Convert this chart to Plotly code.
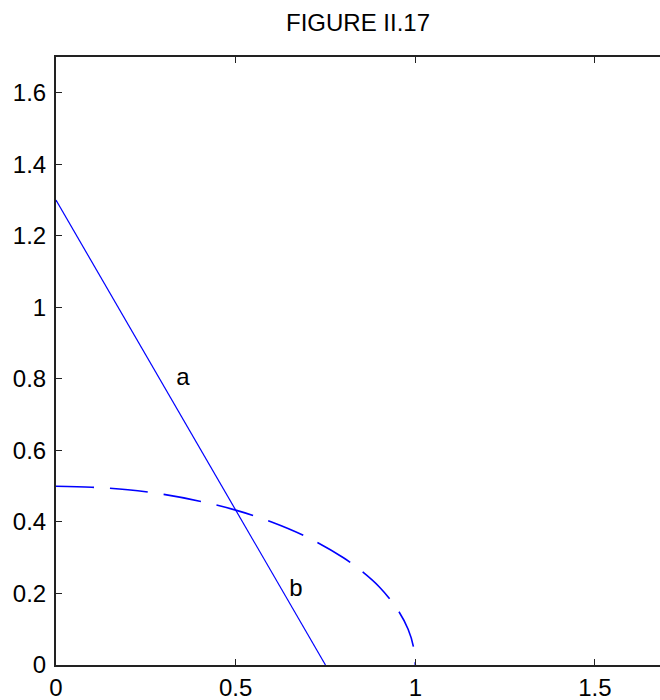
import plotly.graph_objects as go

# Solid line a-b
line_x = [0.0, 0.75]
line_y = [1.3, 0.0]

# Dashed curve
curve_x = [0.0, 0.1, 0.2, 0.3, 0.4, 0.5, 0.6, 0.7, 0.8, 0.85, 0.9, 0.95, 0.98, 0.995, 1.0]
curve_y = [0.5, 0.497, 0.49, 0.477, 0.458, 0.433, 0.4, 0.357, 0.3, 0.263, 0.218, 0.156, 0.1, 0.05, 0.0]

# Text labels
label_text = ["a", "b"]
label_x = [0.353, 0.668]
label_y = [0.80, 0.21]

# Ticks
x_ticks = [0, 0.5, 1, 1.5]
x_ticktext = ["0", "0.5", "1", "1.5"]
y_ticks = [0, 0.2, 0.4, 0.6, 0.8, 1.0, 1.2, 1.4, 1.6]
y_ticktext = ["0", "0.2", "0.4", "0.6", "0.8", "1", "1.2", "1.4", "1.6"]

FONT = "Liberation Sans, Arial, sans-serif"

fig = go.Figure()
fig.add_trace(go.Scatter(x=line_x, y=line_y, mode="lines",
                         line=dict(color="#0000ff", width=1.2), hoverinfo="skip"))
fig.add_trace(go.Scatter(x=curve_x, y=curve_y, mode="lines",
                         line=dict(color="#0000ff", width=1.6, dash="38px,16px", shape="spline"),
                         hoverinfo="skip"))
fig.add_trace(go.Scatter(x=label_x, y=label_y, mode="text", text=label_text,
                         textfont=dict(family=FONT, size=24, color="black"),
                         hoverinfo="skip"))

fig.update_layout(
    width=660, height=700,
    margin=dict(l=56, r=0, t=57, b=35),
    paper_bgcolor="white", plot_bgcolor="white",
    showlegend=False,
    font=dict(family=FONT, size=24, color="black"),
    title=dict(text="FIGURE II.17", x=0.5, xref="paper", y=1 - 23 / 700,
               yref="container", xanchor="center", yanchor="middle",
               font=dict(family=FONT, size=24, color="black")),
)
fig.update_xaxes(range=[0, 1.681], tickvals=x_ticks, ticktext=x_ticktext,
                 showgrid=False, zeroline=False, showline=True, linecolor="#222",
                 linewidth=2, mirror="ticks", ticks="inside", ticklen=6,
                 tickcolor="#222", tickwidth=1)
fig.update_yaxes(range=[0, 1.7], tickvals=y_ticks, ticktext=y_ticktext,
                 showgrid=False, zeroline=False, showline=True, linecolor="#222",
                 linewidth=2, mirror=False, ticks="inside", ticklen=6,
                 tickcolor="#222", tickwidth=1, ticklabelstandoff=3)

fig.write_html("out.html", config={"displayModeBar": False})
